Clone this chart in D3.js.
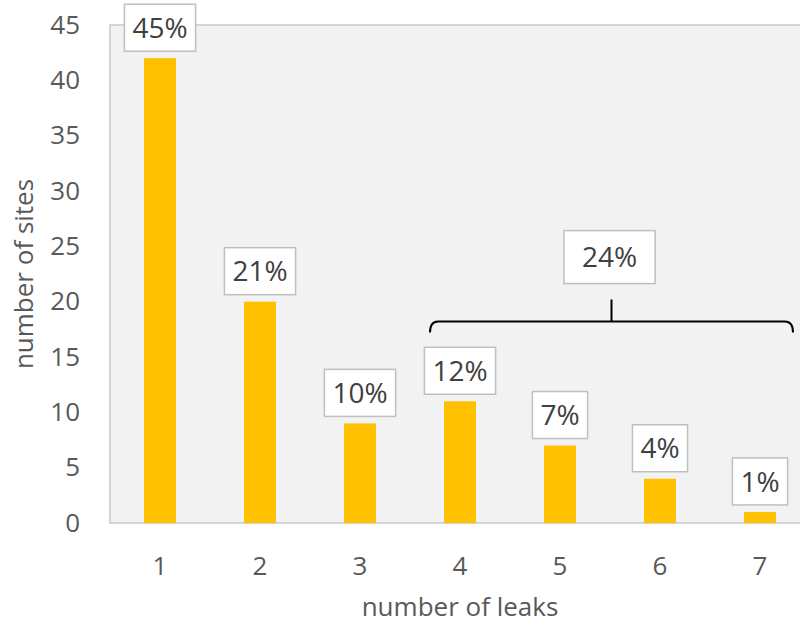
<!DOCTYPE html>
<html>
<head>
<meta charset="utf-8">
<script src="https://cdn.jsdelivr.net/npm/d3@7"></script>
<style>
  body { margin: 0; background: #fff; }
  svg { font-family: "Open Sans", "Noto Sans", sans-serif; }
</style>
</head>
<body>
<svg id="chart" width="800" height="625"></svg>
<script>
const categories = ['1', '2', '3', '4', '5', '6', '7'];
const sites = [42, 20, 9, 11, 7, 4, 1];
const pctLabels = ['45%', '21%', '10%', '12%', '7%', '4%', '1%'];
const yTicks = [0, 5, 10, 15, 20, 25, 30, 35, 40, 45];
const groupCats = ['4', '7'];
const groupLabel = '24%';

const svg = d3.select('#chart');
const margin = { left: 110, top: 25, right: -10, bottom: 102 };
const W = 800, H = 625;

const x = d3.scaleBand()
  .domain(categories)
  .range([margin.left, W - margin.right])
  .paddingInner(0.68)
  .paddingOuter(0.34);

const y = d3.scaleLinear().domain([0, 45]).range([H - margin.bottom, margin.top]);

// plot area
svg.append('rect')
  .attr('x', margin.left)
  .attr('y', margin.top)
  .attr('width', W - margin.right - margin.left)
  .attr('height', y(0) - margin.top)
  .attr('fill', '#f2f2f2')
  .attr('stroke', '#c8c8c8')
  .attr('stroke-width', 1.5);

// y axis
const yAxis = d3.axisLeft(y).tickValues(yTicks).tickSize(0).tickPadding(30);
svg.append('g')
  .attr('transform', `translate(${margin.left},0)`)
  .call(yAxis)
  .call(g => g.select('.domain').remove())
  .selectAll('text')
  .attr('font-size', 26)
  .attr('fill', '#595959')
  .attr('font-family', '"Open Sans", sans-serif');

// x axis
const xAxis = d3.axisBottom(x).tickSize(0);
svg.append('g')
  .attr('transform', `translate(0,${y(0)})`)
  .call(xAxis)
  .call(g => g.select('.domain').remove())
  .selectAll('text')
  .attr('y', 52)
  .attr('dy', 0)
  .attr('font-size', 26)
  .attr('fill', '#595959')
  .attr('font-family', '"Open Sans", sans-serif');

// bars
svg.selectAll('.bar')
  .data(sites)
  .enter()
  .append('rect')
  .classed('bar', true)
  .attr('x', (d, i) => x(categories[i]))
  .attr('width', x.bandwidth())
  .attr('y', d => y(d))
  .attr('height', d => y(0) - y(d))
  .attr('fill', '#ffc000');

// boxed labels
function boxLabel(cx, bottom, txt, padX, h, size) {
  const g = svg.append('g');
  const rect = g.append('rect').attr('fill', '#fff').attr('stroke', '#bfbfbf').attr('stroke-width', 1.5);
  const t = g.append('text')
    .attr('x', cx)
    .attr('text-anchor', 'middle')
    .attr('font-size', size)
    .attr('fill', '#404040')
    .text(txt);
  const top = bottom - h;
  // centre digits in box
  t.attr('y', top + h / 2 + size * 0.36);
  const bb = t.node().getBBox();
  rect.attr('x', bb.x - padX).attr('y', top)
    .attr('width', bb.width + padX * 2).attr('height', h);
}

sites.forEach((d, i) => {
  const cx = x(categories[i]) + x.bandwidth() / 2;
  boxLabel(cx, y(d) - 7, pctLabels[i], 8, 47, 28);
});

// bracket for 4..7
const bx0 = x(groupCats[0]) + x.bandwidth() / 2 - 30;
const bx1 = x(groupCats[1]) + x.bandwidth() / 2 + 33;
const by = y(18.2);
const bmid = (bx0 + bx1) / 2;
const r = 8;
const path = d3.path();
path.moveTo(bx0, by + 11);
path.quadraticCurveTo(bx0, by, bx0 + r, by);
path.lineTo(bx1 - r, by);
path.quadraticCurveTo(bx1, by, bx1, by + 11);
path.moveTo(bmid, by);
path.lineTo(bmid, by - 22);
svg.append('path')
  .attr('d', path.toString())
  .attr('fill', 'none')
  .attr('stroke', '#000')
  .attr('stroke-width', 2);

boxLabel(bmid - 2, y(18.2) - 38, groupLabel, 18, 53, 28);

// axis titles
svg.append('text')
  .attr('x', x('4') + x.bandwidth() / 2)
  .attr('y', 616)
  .attr('text-anchor', 'middle')
  .attr('font-size', 26)
  .attr('fill', '#595959')
  .text('number of leaks');

svg.append('text')
  .attr('transform', `translate(33,${(y(0) + y(45)) / 2}) rotate(-90)`)
  .attr('text-anchor', 'middle')
  .attr('font-size', 26)
  .attr('fill', '#595959')
  .text('number of sites');
</script>
</body>
</html>
